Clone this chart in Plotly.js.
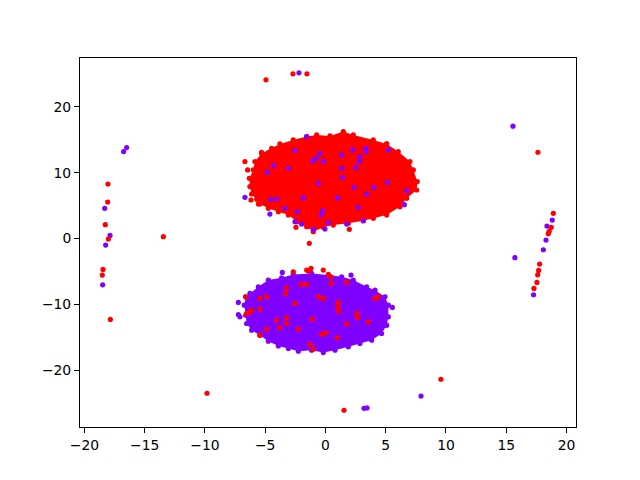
<!DOCTYPE html>
<html><head><meta charset="utf-8">
<script src="https://cdn.plot.ly/plotly-3.0.1.min.js"></script>
<style>html,body{margin:0;padding:0;background:#fff}</style></head>
<body><div id="c" style="width:640px;height:480px"></div>
<script>
// cluster outlines
const redBlobX=[-6.32,-6.27,-6.13,-5.71,-5.44,-4.74,-3.91,-3.08,-2.34,-1.56,-1.01,-0.18,0.65,1.90,3.14,3.97,5.08,6.18,6.74,7.57,7.62,7.29,7.01,6.04,5.08,3.97,2.31,1.48,0.37,-0.73,-1.56,-2.67,-3.78,-4.47,-5.30,-5.85,-5.99];
const redBlobY=[9.14,7.88,6.76,5.95,5.24,4.59,4.08,3.57,2.56,1.80,1.04,1.70,2.05,2.31,2.71,3.07,3.57,4.84,6.11,7.37,8.64,10.41,11.68,13.20,14.36,14.97,15.73,16.24,15.58,15.73,15.48,14.97,14.36,13.70,12.94,11.68,10.41];
const blueBlobX=[-6.62,-6.74,-6.62,-6.54,-6.13,-5.44,-4.74,-3.91,-3.08,-2.25,-1.15,-0.18,0.79,1.90,2.86,3.83,4.66,5.08,5.22,5.22,4.94,4.11,3.42,2.31,1.34,0.24,-1.15,-2.67,-3.64,-4.74,-5.57,-6.27];
const blueBlobY=[-8.84,-10.11,-11.63,-12.89,-13.91,-14.67,-15.58,-16.29,-16.69,-17.10,-16.95,-17.30,-16.95,-16.44,-15.93,-15.43,-14.41,-13.15,-11.88,-10.11,-8.84,-7.83,-7.32,-6.31,-5.80,-5.55,-5.30,-5.45,-5.95,-6.31,-7.32,-8.33];
// individual red points
const redX=[-6.68,-6.46,-6.18,-5.57,-5.30,-2.45,1.98,5.08,-1.34,-18.05,-18.07,-18.27,-18.02,-13.45,-18.46,-18.52,-17.85,17.63,18.91,18.74,18.57,18.49,17.77,17.69,17.61,17.55,17.30,-4.94,-2.70,-1.54,-9.83,1.54,9.58,
-2.67,-1.56,-1.20,-1.42,-0.18,0.24,0.46,-6.62,-6.54,-6.27,-5.44,-4.88,-5.44,-3.22,-3.31,-6.13,-5.44,-4.88,-3.83,-3.22,-3.22,-4.05,-2.25,-1.09,-0.32,0.04,-1.29,-1.01,1.07,1.01,1.12,1.76,0.46,-0.18,-0.59,4.11,4.38,2.59,2.67,1.76,3.55,0.98,-2.53,-2.03,-1.56];
const redY=[11.68,10.41,5.85,5.24,13.1,1.70,1.40,14.36,-0.73,8.28,5.55,2.10,-0.08,0.28,-4.69,-5.55,-12.28,13.10,3.83,1.70,1.09,0.74,-3.87,-4.84,-5.50,-6.66,-7.57,24.09,25.0,25.0,-23.48,-26.06,-21.35,
-5.04,-4.79,-4.53,-4.94,-4.79,-5.45,-5.80,-8.84,-11.37,-11.12,-9.09,-8.84,-10.71,-7.47,-8.33,-10.87,-14.67,-13.75,-13.55,-12.89,-12.03,-12.39,-13.75,-12.23,-14.51,-14.31,-16.08,-16.79,-9.70,-10.36,-11.02,-6.66,-6.81,-9.09,-8.84,-9.09,-8.84,-11.37,-11.98,-12.94,-12.64,-15.07,-9.85,-6.97,-6.97];
// individual violet points
const blueX=[-7.23,-7.23,-7.10,-3.58,2.12,5.55,5.02,-16.50,-16.75,-18.32,-17.88,-18.24,-18.49,15.56,18.82,18.38,18.30,18.08,15.72,17.27,-2.2,7.93,3.2,3.45,
-1.56,-6.68,-4.61,-4.83,-4.33,-3.08,-2.53,-0.46,-0.73,-1.09,-0.18,1.34,2.25,3.36,3.36,2.86,2.81,2.50,1.42,1.34,5.21,5.13,6.74,6.54,4.02,3.42,2.37,1.01,2.72,3.14,0.24,1.76,-0.04,-1.01,-1.98,-2.53,-2.34,-3.36,-1.84,-4.05,-4.55,-0.37,-0.24,-0.60];
const blueY=[-9.70,-11.53,-11.88,-5.14,-5.55,-10.46,-13.14,13.81,13.20,4.58,0.48,-0.99,-7.02,17.05,2.81,1.90,-0.23,-1.70,-2.91,-8.53,25.15,-23.9,-25.76,-25.7,
15.48,6.26,3.72,10.06,11.07,10.66,13.35,12.94,12.18,11.78,11.68,12.69,13.45,13.70,13.20,12.44,11.68,10.77,9.30,10.66,13.45,8.49,7.27,5.14,7.78,6.76,7.78,6.16,4.74,2.71,2.41,2.20,1.44,1.39,2.20,2.56,4.08,4.59,6.16,6.00,5.95,3.57,4.23,8.38];
const tickX=[-20,-15,-10,-5,0,5,10,15,20];
const tickY=[-20,-10,0,10,20];
const RED='#ff0000',VIO='#8000ff',SZ=5.2;
const mk=c=>({color:c,size:SZ,line:{width:0}});
const traces=[
 {x:redBlobX,y:redBlobY,mode:'markers',fill:'toself',fillcolor:RED,marker:mk(RED),type:'scatter'},
 {x:blueBlobX,y:blueBlobY,mode:'markers',fill:'toself',fillcolor:VIO,marker:mk(VIO),type:'scatter'},
 {x:blueX,y:blueY,mode:'markers',marker:mk(VIO),type:'scatter'},
 {x:redX,y:redY,mode:'markers',marker:mk(RED),type:'scatter'}
];
const ax={showline:true,mirror:true,linecolor:'#000',linewidth:1,showgrid:false,zeroline:false,ticks:'outside',ticklen:5,tickwidth:1,tickcolor:'#000',tickfont:{family:'DejaVu Sans',size:13.9,color:'#000'}};
Plotly.newPlot('c',traces,{
 width:640,height:480,showlegend:false,paper_bgcolor:'#fff',plot_bgcolor:'#fff',
 margin:{l:80,r:64,t:58,b:53,pad:0},
 xaxis:Object.assign({},ax,{range:[-20.37,20.79],tickvals:tickX,ticktext:tickX.map(v=>String(v).replace('-','\u2212'))}),
 yaxis:Object.assign({},ax,{range:[-28.6,27.4],tickvals:tickY,ticktext:tickY.map(v=>String(v).replace('-','\u2212'))})
},{displayModeBar:false,staticPlot:true});
</script></body></html>
